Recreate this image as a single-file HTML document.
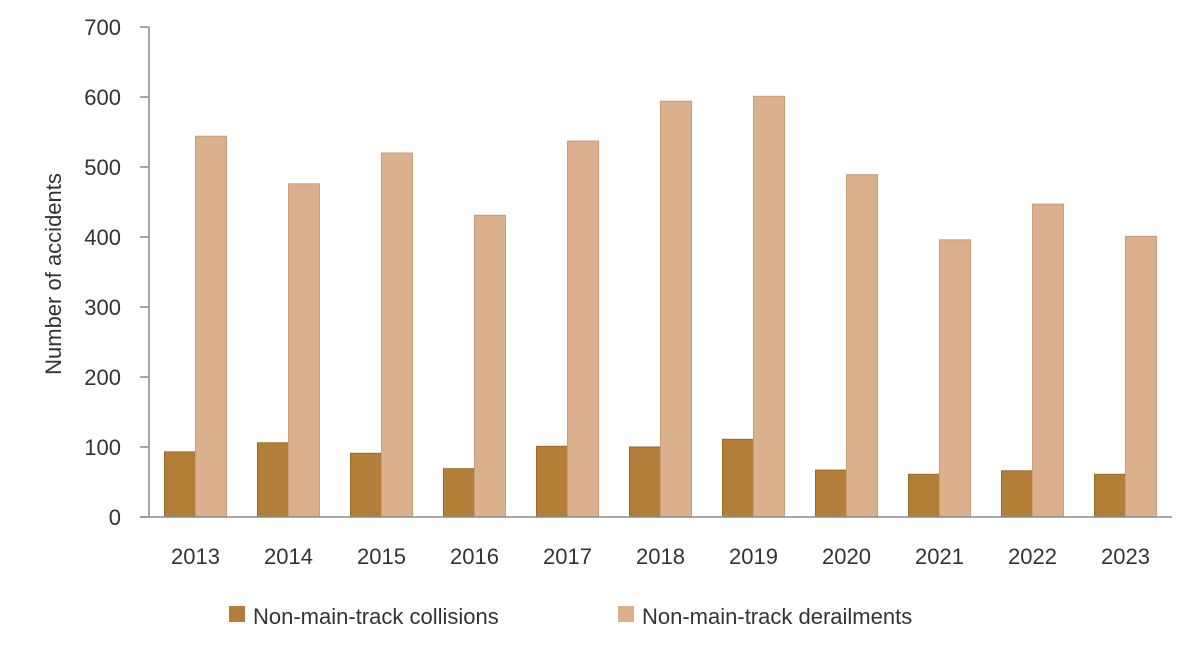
<!DOCTYPE html>
<html><head><meta charset="utf-8"><style>
body{margin:0;background:#fff;}
svg{display:block;font-family:"Liberation Sans",sans-serif;}
</style></head><body>
<svg id="chart" width="1200" height="658"></svg>
<script>
const categories=["2013","2014","2015","2016","2017","2018","2019","2020","2021","2022","2023"];
const collisions=[93,106,91,69,101,100,111,67,61,66,61];
const derailments=[544,476,520,431,537,594,601,489,396,447,401];
const yTicks=[0,100,200,300,400,500,600,700];
const NS="http://www.w3.org/2000/svg";
const svg=document.getElementById("chart");
const x0=149,x1=1172,yBase=517,yTop=27,yMax=700;
const band=(x1-x0)/categories.length;
const bw=31;
function y(v){return yBase-(yBase-yTop)*v/yMax;}
function mk(t,a,txt){const e=document.createElementNS(NS,t);for(const k in a)e.setAttribute(k,a[k]);if(txt!=null)e.textContent=txt;svg.appendChild(e);return e;}
yTicks.forEach(t=>{
 const tk=mk("line",{x1:140,x2:x0,y1:y(t),y2:y(t),stroke:"#8c8c8c","stroke-width":1.5});
 
 
 const l=mk("text",{x:121,y:y(t)+8,"text-anchor":"end","font-size":22,fill:"#333"},t);
 
 
});
categories.forEach((c,i)=>{
 const cx=x0+band*(i+0.5);
 const b1=mk("rect",{x:cx-bw,y:y(collisions[i]),width:bw,height:yBase-y(collisions[i]),fill:"#b37e37",stroke:"#9a6a2a","stroke-width":1});
 
 
 const b2=mk("rect",{x:cx,y:y(derailments[i]),width:bw,height:yBase-y(derailments[i]),fill:"#dbb08c",stroke:"#c99d78","stroke-width":1});
 
 
 const l=mk("text",{x:cx,y:564,"text-anchor":"middle","font-size":22,fill:"#333"},c);
 
 
});
const ax=mk("line",{x1:x0,x2:x0,y1:yTop,y2:yBase,stroke:"#8c8c8c","stroke-width":1.5});


const xa=mk("line",{x1:140,x2:x1,y1:yBase,y2:yBase,stroke:"#8c8c8c","stroke-width":1.5});


const yt=mk("text",{x:0,y:0,transform:"translate(61,274) rotate(-90)","text-anchor":"middle","font-size":22,fill:"#333"},"Number of accidents");


const s1=mk("rect",{x:229,y:606,width:16,height:16,fill:"#b37e37"});


const t1=mk("text",{x:253,y:624,"font-size":22,fill:"#333"},"Non-main-track collisions");


const s2=mk("rect",{x:618,y:606,width:16,height:16,fill:"#dbb08c"});


const t2=mk("text",{x:642,y:624,"font-size":22,fill:"#333"},"Non-main-track derailments");


</script>
</body></html>
